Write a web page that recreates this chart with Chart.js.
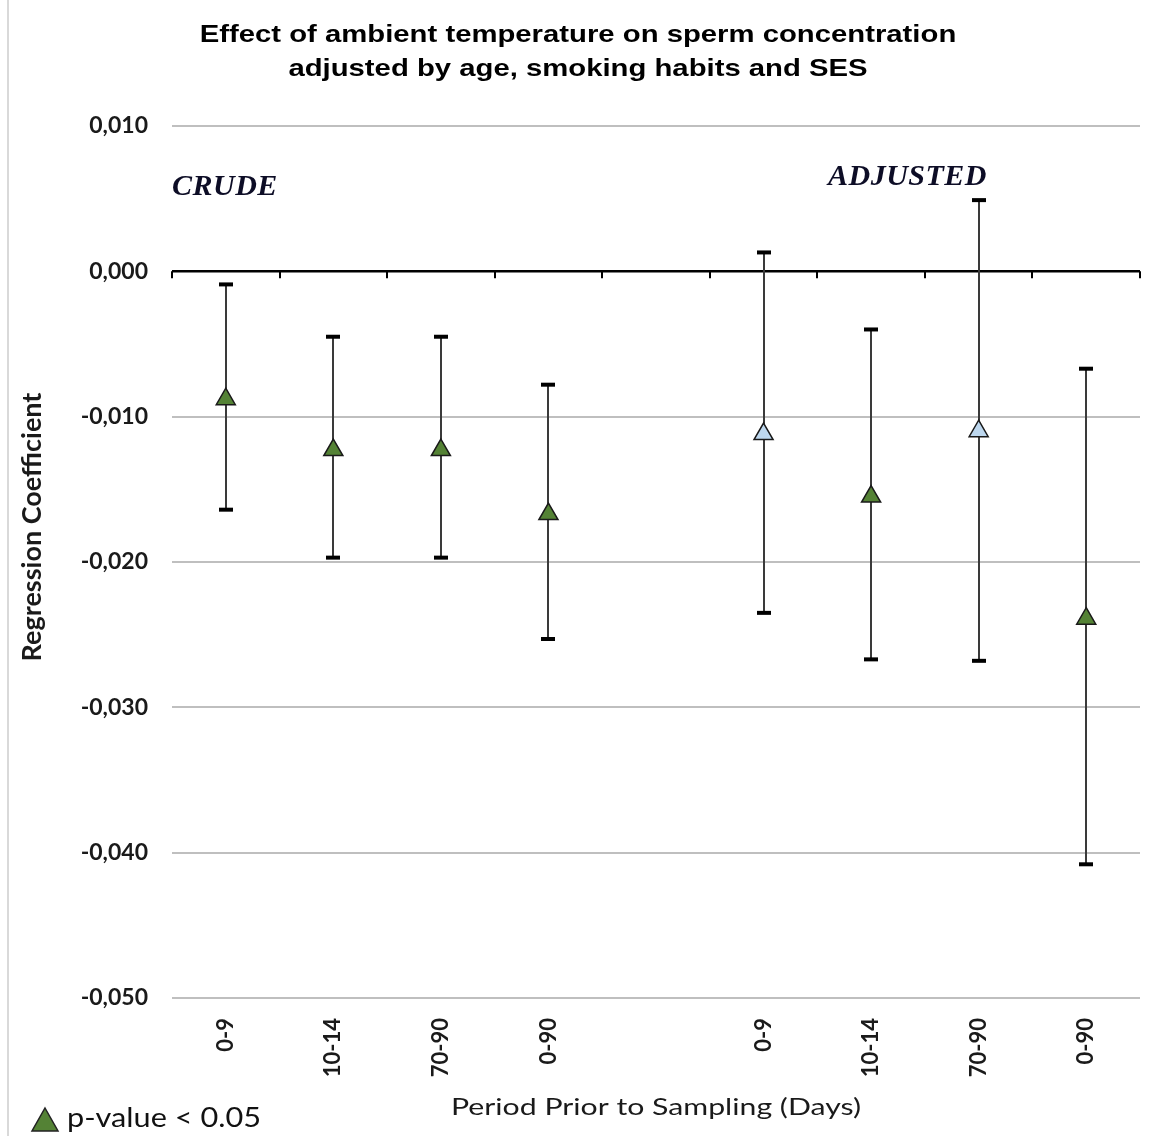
<!DOCTYPE html>
<html lang="en">
<head>
    <meta charset="UTF-8">
    <title>Effect of ambient temperature on sperm concentration</title>
    <script src="https://cdn.jsdelivr.net/npm/chart.js"></script>
    <style>
        html, body { margin: 0; padding: 0; background: #fff; }
        #wrap { width: 1156px; height: 1136px; position: relative; }
    </style>
</head>
<body>
<div id="wrap"><canvas id="coefChart"></canvas></div>

<script>
    // periods (the empty slot separates crude and adjusted estimates)
    const periods = ['0-9', '10-14', '70-90', '0-90', '', '0-9', '10-14', '70-90', '0-90'];
    const coefficients = [-0.0088, -0.0123, -0.0123, -0.0167, null, -0.0112, -0.0155, -0.0110, -0.0239];
    const lowerCI = [-0.0164, -0.0197, -0.0197, -0.0253, null, -0.0235, -0.0267, -0.0268, -0.0408];
    const upperCI = [-0.0009, -0.0045, -0.0045, -0.0078, null, 0.0013, -0.0040, 0.0049, -0.0067];
    const significant = [true, true, true, true, null, false, true, false, true];
    const yTicks = { min: -0.05, max: 0.01, step: 0.01 };

    const titleLines = ['Effect of ambient temperature on sperm concentration',
                        'adjusted by age, smoking habits and SES'];

    const GREEN = '#548235';
    const LIGHT_BLUE = '#bdd7ee';

    function fmt(v) {
        const r = Math.round(v * 1000) / 1000;
        return (r === 0 ? 0 : r).toFixed(3).replace('.', ',');
    }

    // the source image is wider than its fonts, so some text gets stretched
    function wideText(ctx, text, x, y, font, stretch, align) {
        ctx.save();
        ctx.font = font;
        ctx.textBaseline = 'middle';
        ctx.textAlign = align || 'center';
        ctx.translate(x, y);
        ctx.scale(stretch, 1);
        ctx.fillText(text, 0, 0);
        ctx.restore();
    }

    // error bars, zero-line ticks, titles, group labels, legend
    const extras = {
        id: 'extras',
        beforeDatasetsDraw(chart) {
            const { ctx, scales: { x, y } } = chart;
            ctx.save();

            // small tick marks hanging under the zero line
            const zeroY = y.getPixelForValue(0);
            const half = (x.getPixelForValue(1) - x.getPixelForValue(0)) / 2;
            ctx.strokeStyle = '#000';
            ctx.lineWidth = 2;
            for (let i = 0; i <= periods.length; i++) {
                const px = Math.round(x.getPixelForValue(i) - half);
                ctx.beginPath();
                ctx.moveTo(px, zeroY);
                ctx.lineTo(px, zeroY + 7);
                ctx.stroke();
            }

            // confidence intervals
            coefficients.forEach((c, i) => {
                if (c === null) return;
                const px = Math.round(x.getPixelForValue(i));
                const yl = y.getPixelForValue(lowerCI[i]);
                const yu = y.getPixelForValue(upperCI[i]);
                ctx.strokeStyle = '#3a3a3a';
                ctx.lineWidth = 2;
                ctx.beginPath();
                ctx.moveTo(px, yu);
                ctx.lineTo(px, yl);
                ctx.stroke();
                ctx.strokeStyle = '#000';
                ctx.lineWidth = 4;
                [yu, yl].forEach(py => {
                    ctx.beginPath();
                    ctx.moveTo(px - 7, py);
                    ctx.lineTo(px + 7, py);
                    ctx.stroke();
                });
            });
            ctx.restore();
        },
        afterDraw(chart) {
            const { ctx, chartArea } = chart;
            const midX = (chartArea.left + chartArea.right) / 2;
            ctx.save();

            // light frame line on the left
            ctx.strokeStyle = '#d9d9d9';
            ctx.lineWidth = 2;
            ctx.beginPath();
            ctx.moveTo(8, 0);
            ctx.lineTo(8, chart.height);
            ctx.stroke();

            // chart title
            ctx.fillStyle = '#000';
            wideText(ctx, titleLines[0], chart.width / 2, 35, 'bold 24px "Liberation Sans", Arial', 1.22);
            wideText(ctx, titleLines[1], chart.width / 2, 69, 'bold 24px "Liberation Sans", Arial', 1.22);

            // x axis title
            ctx.fillStyle = '#1a1a1a';
            wideText(ctx, 'Period Prior to Sampling (Days)', midX, 1107, '24px Lato', 1.26);

            // group labels
            ctx.fillStyle = '#0d0d26';
            ctx.font = 'italic bold 30px "Liberation Serif"';
            ctx.letterSpacing = '0.5px';
            ctx.textBaseline = 'middle';
            ctx.textAlign = 'left';
            ctx.fillText('CRUDE', 172, 187);
            ctx.fillText('ADJUSTED', 828, 177);
            ctx.letterSpacing = '0px';

            // y axis title
            ctx.save();
            ctx.translate(32, 527);
            ctx.rotate(-Math.PI / 2);
            ctx.textAlign = 'center';
            ctx.textBaseline = 'middle';
            ctx.fillStyle = '#1a1a1a';
            ctx.font = 'bold 27px Lato';
            ctx.fillText('Regression Coefficient', 0, 0);
            ctx.restore();

            // legend
            ctx.fillStyle = GREEN;
            ctx.strokeStyle = '#222';
            ctx.lineWidth = 1.5;
            ctx.beginPath();
            ctx.moveTo(45, 1108);
            ctx.lineTo(58, 1131);
            ctx.lineTo(32, 1131);
            ctx.closePath();
            ctx.fill();
            ctx.stroke();
            ctx.fillStyle = '#111';
            wideText(ctx, 'p-value < 0.05', 67, 1119, '26px Lato', 1.18, 'left');
            ctx.restore();
        }
    };

    new Chart(document.getElementById('coefChart'), {
        type: 'line',
        data: {
            labels: periods,
            datasets: [{
                label: 'Regression coefficient',
                data: coefficients,
                showLine: false,
                pointStyle: 'triangle',
                pointRadius: 11,
                pointHoverRadius: 11,
                pointBorderWidth: 1.5,
                pointBorderColor: '#1a1a1a',
                pointBackgroundColor: significant.map(s => s ? GREEN : LIGHT_BLUE)
            }]
        },
        options: {
            responsive: true,
            maintainAspectRatio: false,
            animation: false,
            layout: { padding: { left: 0, right: 16, top: 126, bottom: 0 } },
            plugins: {
                legend: { display: false },
                tooltip: { enabled: false },
                title: { display: false }
            },
            scales: {
                x: {
                    type: 'category',
                    offset: true,
                    grid: { display: false },
                    border: { display: false },
                    ticks: {
                        autoSkip: false,
                        minRotation: 90,
                        maxRotation: 90,
                        padding: 12,
                        color: '#1a1a1a',
                        font: { family: 'Lato', size: 22, weight: 'bold' }
                    },
                    afterFit(s) { s.height = 138; }
                },
                y: {
                    min: yTicks.min,
                    max: yTicks.max,
                    border: { display: false },
                    grid: {
                        drawTicks: false,
                        color: c => c.tick && Math.abs(c.tick.value) < 1e-9 ? '#000' : '#bfbfbf',
                        lineWidth: c => c.tick && Math.abs(c.tick.value) < 1e-9 ? 2.5 : 2
                    },
                    ticks: {
                        stepSize: yTicks.step,
                        padding: 24,
                        color: '#1a1a1a',
                        font: { family: 'Lato', size: 23, weight: 'bold' },
                        callback: v => fmt(v)
                    },
                    afterFit(s) { s.width = 172; }
                }
            }
        },
        plugins: [extras]
    });
</script>
</body>
</html>
